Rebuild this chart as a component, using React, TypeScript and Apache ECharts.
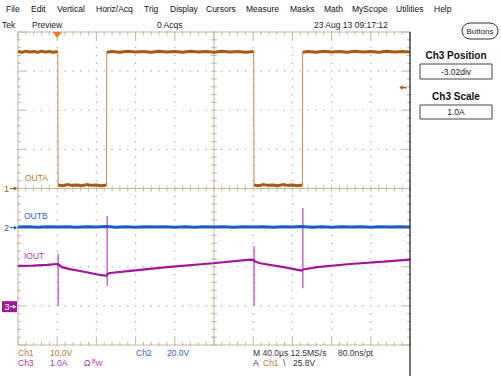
import React, { useEffect, useRef } from "react";
import * as echarts from "echarts";

const W = 501;
const H = 376;
const GL = 18;
const GT = 32;
const GW = 392;
const GH = 313;

const FONT = "'Liberation Sans', Arial, sans-serif";
const TAN = "#c4b99c";
const DOT = "#a4a4a4";
const C1 = "#a85a10";
const C1L = "#c98a48";
const C1T = "#c07830";
const C2 = "#1c5cc0";
const C2T = "#2a66cc";
const C3 = "#a0149e";
const C3L = "#c040c0";
const C3T = "#b030b0";

const menuItems = ["File", "Edit", "Vertical", "Horiz/Acq", "Trig", "Display", "Cursors", "Measure", "Masks", "Math", "MyScope", "Utilities", "Help"];
const menuX = [6, 31, 57, 96, 144, 170, 206, 246, 290, 324, 352, 396, 434];

// time axis: 40 µs/div, 10 div
const timeMin = 0;
const timeMax = 400;
// channel scales (per div) and positions (div)
const ch1Scale = 10;
const ch2Scale = 20;
const ch3Scale = 1;
const ch1Pos = 0;
const ch2Pos = -1;
const ch3Pos = -3.02;

const trigTime = 40;
const trigLevel = 25.8;

// Ch1 (OUTA, volts) plateaus between edges
const ch1Seg0 = [[0, 35.0], [4, 34.8], [8, 35.1], [12, 34.9], [16, 35.0], [20, 34.8], [24, 35.1], [28, 34.9], [32, 35.0], [36, 34.8], [40.6, 35.0]];
const ch1Seg1 = [[40.9, 0.9], [45, 0.7], [50, 1.0], [55, 0.8], [60, 0.9], [65, 0.7], [70, 1.0], [75, 0.8], [80, 0.9], [85, 0.7], [90.3, 0.9]];
const ch1Seg2 = [[90.6, 34.8], [96, 35.0], [104, 34.8], [112, 35.1], [120, 34.9], [128, 35.0], [136, 34.8], [144, 35.1], [152, 34.9], [160, 35.0], [168, 34.8], [176, 35.1], [184, 34.9], [192, 35.0], [200, 34.8], [208, 35.1], [216, 34.9], [224, 35.0], [232, 34.8], [240.5, 35.0]];
const ch1Seg3 = [[240.8, 0.9], [245, 0.7], [250, 1.0], [255, 0.8], [260, 0.9], [265, 0.7], [270, 1.0], [275, 0.8], [280, 0.9], [285, 0.7], [290.2, 0.9]];
const ch1Seg4 = [[290.5, 34.8], [296, 35.0], [304, 34.8], [312, 35.1], [320, 34.9], [328, 35.0], [336, 34.8], [344, 35.1], [352, 34.9], [360, 35.0], [368, 34.8], [376, 35.1], [384, 34.9], [392, 35.0], [400, 34.9]];
const ch1Segments = [ch1Seg0, ch1Seg1, ch1Seg2, ch1Seg3, ch1Seg4];

// Ch2 (OUTB, volts)
const ch2Points = [[0, 0.3], [10, 0.5], [20, 0.2], [30, 0.4], [40, 0.3], [50, 0.5], [60, 0.2], [70, 0.4], [80, 0.3], [90, 0.6], [100, 0.2], [110, 0.5], [120, 0.2], [130, 0.4], [140, 0.3], [150, 0.5], [160, 0.2], [170, 0.4], [180, 0.2], [190, 0.5], [200, 0.3], [210, 0.4], [220, 0.2], [230, 0.5], [240, 0.3], [250, 0.4], [260, 0.2], [270, 0.5], [280, 0.3], [290, 0.6], [300, 0.2], [310, 0.4], [320, 0.2], [330, 0.5], [340, 0.3], [350, 0.4], [360, 0.2], [370, 0.5], [380, 0.3], [390, 0.4], [400, 0.3]];

// Ch3 (IOUT, amps) baseline
const ch3Points = [[0, 1.04], [15, 1.05], [30, 1.07], [39.5, 1.09], [41.3, 1.08], [44.6, 1.01], [53, 0.96], [70, 0.88], [83.7, 0.81], [90.5, 0.79], [91.5, 0.84], [94, 0.86], [117, 0.92], [152, 1.01], [199, 1.11], [237, 1.2], [240.5, 1.19], [241.2, 1.16], [247, 1.11], [271, 1.01], [289.5, 0.92], [291, 0.95], [305, 1.01], [339, 1.09], [373, 1.15], [400, 1.2]];
// spikes: [time, top, bottom]
const ch3Spikes = [[41.0, 1.35, 0.02], [91.0, 2.32, 0.53], [240.9, 1.55, 0.02], [290.7, 2.52, 0.47]];

const axisRange = (scale: number, pos: number) => ({ min: (-4 - pos) * scale, max: (4 - pos) * scale });
const groundY = (pos: number) => GT + (4 - pos) * (GH / 8);

function hiddenY(scale: number, pos: number) {
  return { gridIndex: 0, type: "value", show: false, ...axisRange(scale, pos), axisLine: { onZero: false } };
}

function txt(x: number, y: number, text: string, fill: string, size = 8.5, extra: any = {}) {
  return {
    type: "text", x, y, silent: true,
    style: { text, fill, font: `${extra.weight || "normal"} ${size}px ${FONT}`, verticalAlign: "middle", align: extra.align || "left" },
  };
}

function chMarker(label: string, pos: number, color: string) {
  const y = groundY(pos);
  return [
    txt(4, y, label, color, 9),
    { type: "line", silent: true, shape: { x1: 10, y1: y, x2: 16, y2: y }, style: { stroke: color, lineWidth: 1 } },
    { type: "polygon", silent: true, shape: { points: [[14, y - 2], [17.5, y], [14, y + 2]] }, style: { fill: color } },
  ];
}

function seg(x1: number, y1: number, x2: number, y2: number, color = TAN) {
  return { type: "line", shape: { x1, y1, x2, y2 }, style: { stroke: color, lineWidth: 1 } };
}

function renderGraticule(_p: any, api: any) {
  const ch: any[] = [];
  const tl = api.coord([-5, 4]);
  const br = api.coord([5, -4]);
  const x0 = tl[0], y0 = tl[1], x1 = br[0], y1 = br[1];
  // dotted division lines
  for (let i = -5; i <= 5; i++) {
    for (let j = -20; j <= 20; j++) {
      const p = api.coord([i, j / 5]);
      ch.push({ type: "rect", shape: { x: p[0] - 0.6, y: p[1] - 0.6, width: 1.2, height: 1.2 }, style: { fill: DOT } });
    }
  }
  for (let j = -4; j <= 4; j++) {
    for (let i = -25; i <= 25; i++) {
      if (i % 5 === 0) continue;
      const p = api.coord([i / 5, j]);
      ch.push({ type: "rect", shape: { x: p[0] - 0.6, y: p[1] - 0.6, width: 1.2, height: 1.2 }, style: { fill: DOT } });
    }
  }
  // borders
  ch.push(seg(x0, y0, x1, y0));
  ch.push(seg(x0, y1, x1, y1));
  ch.push(seg(x0, y0, x0, y1));
  // center cross
  const c = api.coord([0, 0]);
  ch.push(seg(x0, c[1], x1, c[1]));
  ch.push(seg(c[0], y0, c[0], y1));
  for (let i = -25; i <= 25; i++) {
    const p = api.coord([i / 5, 0]);
    const len = i % 5 === 0 ? 7 : 3;
    ch.push(seg(p[0], y0, p[0], y0 + len));
    ch.push(seg(p[0], y1, p[0], y1 - len));
    ch.push(seg(p[0], c[1] - 3, p[0], c[1] + 3));
  }
  for (let j = -20; j <= 20; j++) {
    const p = api.coord([0, j / 5]);
    const len = j % 5 === 0 ? 7 : 3;
    ch.push(seg(x0, p[1], x0 + len, p[1]));
    ch.push(seg(x1, p[1], x1 - len, p[1]));
    ch.push(seg(c[0] - 3, p[1], c[0] + 3, p[1]));
  }
  return { type: "group", children: ch };
}

function buildOption() {
  const ch1All = ([] as number[][]).concat(...ch1Segments);
  const series: any[] = [];
  series.push({ type: "custom", xAxisIndex: 0, yAxisIndex: 0, data: [[0, 0]], silent: true, z: 1, renderItem: renderGraticule });
  // Ch1 thin full trace (edges)
  series.push({
    name: "OUTA", type: "line", xAxisIndex: 1, yAxisIndex: 1, data: ch1All, symbol: "none", z: 3,
    lineStyle: { color: C1L, width: 1 },
    markPoint: {
      silent: true, label: { show: false },
      data: [
        { coord: [trigTime, axisRange(ch1Scale, ch1Pos).max], symbol: "triangle", symbolRotate: 180, symbolSize: [9, 6], symbolOffset: [0, 3], itemStyle: { color: "#f07a22" } },
        { coord: [timeMax, trigLevel], symbol: "path://M0,3 L4,0 L4,2 L10,2 L10,4 L4,4 L4,6 Z", symbolSize: [7, 5], symbolOffset: [-7, 0], itemStyle: { color: C1 } },
      ],
    },
  });
  ch1Segments.forEach((s) => {
    series.push({ type: "line", xAxisIndex: 1, yAxisIndex: 1, data: s, symbol: "none", z: 4, lineStyle: { color: C1, width: 3 } });
  });
  series.push({ name: "OUTB", type: "line", xAxisIndex: 1, yAxisIndex: 2, data: ch2Points, symbol: "none", z: 4, lineStyle: { color: C2, width: 3 } });
  series.push({
    type: "custom", xAxisIndex: 1, yAxisIndex: 3, data: ch3Spikes, silent: true, z: 4,
    renderItem: (_p: any, api: any) => {
      const t = api.value(0);
      const top = api.coord([t, api.value(1)]);
      const bot = api.coord([t, api.value(2)]);
      return { type: "line", shape: { x1: top[0], y1: top[1], x2: bot[0], y2: bot[1] }, style: { stroke: C3L, lineWidth: 1.2 } };
    },
  });
  series.push({ name: "IOUT", type: "line", xAxisIndex: 1, yAxisIndex: 3, data: ch3Points, symbol: "none", z: 5, lineStyle: { color: C3, width: 2.2 } });

  const graphics: any[] = [];
  menuItems.forEach((m, i) => graphics.push(txt(menuX[i], 8.5, m, "#111", 8.5)));
  graphics.push(txt(2, 25, "Tek", "#222", 8.5));
  graphics.push(txt(32, 25, "Preview", "#222", 8.5));
  graphics.push(txt(157, 25, "0 Acqs", "#222", 8.5));
  graphics.push(txt(314, 25, "23 Aug 13 09:17:12", "#222", 8.5));
  graphics.push({ type: "rect", silent: true, shape: { x: 462, y: 23, width: 36, height: 16, r: 8 }, style: { fill: "#fff", stroke: "#333", lineWidth: 1 } });
  graphics.push(txt(480, 31.5, "Buttons", "#222", 8, { align: "center" }));
  graphics.push(txt(456, 55, "Ch3 Position", "#111", 10, { align: "center", weight: "bold" }));
  graphics.push({ type: "rect", silent: true, shape: { x: 420, y: 64, width: 72, height: 15 }, style: { fill: "#fff", stroke: "#444", lineWidth: 1 } });
  graphics.push(txt(456, 71.5, "-3.02div", "#222", 8.5, { align: "center" }));
  graphics.push(txt(456, 96, "Ch3 Scale", "#111", 10, { align: "center", weight: "bold" }));
  graphics.push({ type: "rect", silent: true, shape: { x: 420, y: 105, width: 72, height: 14 }, style: { fill: "#fff", stroke: "#444", lineWidth: 1 } });
  graphics.push(txt(456, 112, "1.0A", "#222", 8.5, { align: "center" }));
  graphics.push({ type: "line", silent: true, z: 10, shape: { x1: GL + GW, y1: GT, x2: GL + GW, y2: H }, style: { stroke: "#2a2a2a", lineWidth: 1.3 } });

  graphics.push(...chMarker("1", ch1Pos, C1));
  graphics.push(...chMarker("2", ch2Pos, C2));
  const y3 = groundY(ch3Pos);
  graphics.push({ type: "rect", silent: true, shape: { x: 2, y: y3 - 5.5, width: 15, height: 11 }, style: { fill: "#9b1a96" } });
  graphics.push(txt(4.5, y3, "3", "#fff", 9));
  graphics.push({ type: "line", silent: true, shape: { x1: 10, y1: y3, x2: 15, y2: y3 }, style: { stroke: "#fff", lineWidth: 1 } });
  graphics.push({ type: "polygon", silent: true, shape: { points: [[13, y3 - 2], [16.5, y3], [13, y3 + 2]] }, style: { fill: "#fff" } });

  graphics.push(txt(25, 178, "OUTA", C1T, 8.5));
  graphics.push(txt(24, 215.5, "OUTB", C2T, 8.5));
  graphics.push(txt(24, 256, "IOUT", C3T, 8.5));

  graphics.push(txt(18, 353, "Ch1", C1T));
  graphics.push(txt(50, 353, "10.0V", C1T));
  graphics.push(txt(136, 353, "Ch2", C2T));
  graphics.push(txt(167, 353, "20.0V", C2T));
  graphics.push(txt(253, 353, "M 40.0\u00b5s 12.5MS/s", "#333"));
  graphics.push(txt(338, 353, "80.0ns/pt", "#333"));
  graphics.push(txt(18, 363, "Ch3", C3T));
  graphics.push(txt(50, 363, "1.0A", C3T));
  graphics.push(txt(84, 363, "\u03a9", C3T));
  graphics.push(txt(92, 360.5, "B", C3T, 5.5));
  graphics.push(txt(95.5, 363.5, "W", C3T, 7.5));
  graphics.push(txt(253, 363, "A", "#333"));
  graphics.push(txt(263, 363, "Ch1", C1T));
  graphics.push(txt(283, 363, "\\", "#333"));
  graphics.push(txt(293, 363, "25.8V", "#333"));

  return {
    animation: false,
    backgroundColor: "#ffffff",
    grid: [{ left: GL, top: GT, width: GW, height: GH, show: false }],
    xAxis: [
      { gridIndex: 0, type: "value", show: false, min: -5, max: 5, axisLine: { onZero: false } },
      { gridIndex: 0, type: "value", show: false, min: timeMin, max: timeMax, axisLine: { onZero: false } },
    ],
    yAxis: [
      { gridIndex: 0, type: "value", show: false, min: -4, max: 4, axisLine: { onZero: false } },
      hiddenY(ch1Scale, ch1Pos),
      hiddenY(ch2Scale, ch2Pos),
      hiddenY(ch3Scale, ch3Pos),
    ],
    series,
    graphic: graphics,
  };
}

export default function App() {
  const ref = useRef<HTMLDivElement>(null);
  useEffect(() => {
    const chart = echarts.init(ref.current!, null, { renderer: "svg" });
    chart.setOption(buildOption() as any);
    return () => chart.dispose();
  }, []);
  return <div ref={ref} style={{ position: "fixed", left: 0, top: 0, width: W, height: H, background: "#fff" }} />;
}
